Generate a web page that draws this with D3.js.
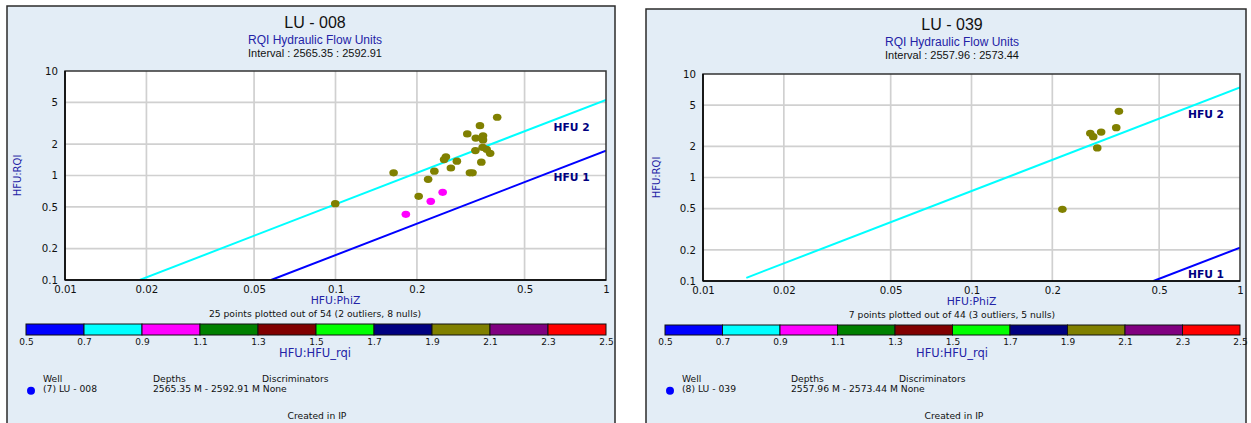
<!DOCTYPE html>
<html>
<head>
<meta charset="utf-8">
<script src="https://cdn.jsdelivr.net/npm/d3@7"></script>
<style>
  body { margin: 0; background: #fff; }
  svg { display: block; }
</style>
</head>
<body>
<script>
const lu008PhiZ = [0.396, 0.342, 0.307, 0.330, 0.351, 0.351, 0.350, 0.362, 0.329, 0.373,
  0.256, 0.252, 0.281, 0.164, 0.232, 0.267, 0.346, 0.321, 0.314, 0.220, 0.0998, 0.203,
  0.182, 0.225, 0.249];
const lu008RQI = [3.61, 3.0, 2.50, 2.28, 2.40, 2.19, 1.86, 1.78, 1.73, 1.63,
  1.51, 1.42, 1.37, 1.06, 1.10, 1.18, 1.34, 1.06, 1.06, 0.92, 0.537, 0.632,
  0.425, 0.566, 0.690];
const lu008HFU = [2, 2, 2, 2, 2, 2, 2, 2, 2, 2, 2, 2, 2, 2, 2, 2, 2, 2, 2, 2, 2, 2, 1, 1, 1];

const lu039PhiZ = [0.354, 0.346, 0.304, 0.277, 0.284, 0.294, 0.218];
const lu039RQI = [4.36, 3.03, 2.75, 2.67, 2.48, 1.93, 0.493];
const lu039HFU = [2, 2, 2, 2, 2, 2, 2];

// flow unit lines: RQI = FZI * PhiZ
const lu008Lines = [
  { name: "HFU 2", fzi: 5.3, from: 0.0189, hfu: 0.8 },
  { name: "HFU 1", fzi: 1.73, from: 0.0578, hfu: 0.6 }
];
const lu039Lines = [
  { name: "HFU 2", fzi: 7.4, from: 0.0145, hfu: 0.8 },
  { name: "HFU 1", fzi: 0.21, from: 0.476, hfu: 0.6 }
];

const hfuBreaks = [0.5, 0.7, 0.9, 1.1, 1.3, 1.5, 1.7, 1.9, 2.1, 2.3, 2.5];
const hfuColors = ["#0000ff", "#00ffff", "#ff00ff", "#008000", "#800000",
  "#00ff00", "#000080", "#808000", "#800080", "#ff0000"];
const xTicks = [0.01, 0.02, 0.05, 0.1, 0.2, 0.5, 1];
const yTicks = [0.1, 0.2, 0.5, 1, 2, 5, 10];

const panels = [
  {
    well: "LU - 008", wellNo: 7, interval: "2565.35 : 2592.91",
    depths: "2565.35 M - 2592.91 M", plotted: 25, total: 54, outliers: 2, nulls: 8,
    phiz: lu008PhiZ, rqi: lu008RQI, hfu: lu008HFU, lines: lu008Lines,
    box: [7, 6, 608], plot: [65, 71, 606, 280], cx: 315, bar: [26, 606, 324, 335], dy: 0,
    legend: [31, 43, 153, 262]
  },
  {
    well: "LU - 039", wellNo: 8, interval: "2557.96 : 2573.44",
    depths: "2557.96 M - 2573.44 M", plotted: 7, total: 44, outliers: 3, nulls: 5,
    phiz: lu039PhiZ, rqi: lu039RQI, hfu: lu039HFU, lines: lu039Lines,
    box: [646, 9, 600], plot: [703, 74, 1240, 281], cx: 952, bar: [665, 1240, 325, 335], dy: 2,
    legend: [670, 682, 791, 899]
  }
];

const W = 1251, H = 423;
const sans = "'DejaVu Sans', Verdana, sans-serif";
const arial = "'Liberation Sans', Arial, sans-serif";

const svg = d3.select("body").append("svg").attr("width", W).attr("height", H);

const colorOf = d3.scaleThreshold().domain(hfuBreaks.slice(1, -1)).range(hfuColors);
const fmt = (d) => String(d);

panels.forEach(function (p, pi) {
  const g = svg.append("g");
  const [bx, by, bw] = p.box;
  const [x0, y0, x1, y1] = p.plot;

  g.append("rect")
    .attr("x", bx).attr("y", by).attr("width", bw).attr("height", H + 20)
    .attr("fill", "#e3edf6").attr("stroke", "#2b2b2b").attr("stroke-width", 1.5);

  // titles
  g.append("text").attr("x", p.cx).attr("y", 27.5 + p.dy).attr("text-anchor", "middle")
    .style("font-family", arial).style("font-size", "16px").attr("fill", "#111").text(p.well);
  g.append("text").attr("x", p.cx).attr("y", 44 + p.dy).attr("text-anchor", "middle")
    .style("font-family", arial).style("font-size", "12px").attr("fill", "#2323a6")
    .text("RQI Hydraulic Flow Units");
  g.append("text").attr("x", p.cx).attr("y", 57 + p.dy).attr("text-anchor", "middle")
    .style("font-family", arial).style("font-size", "11px").attr("fill", "#111")
    .text("Interval : " + p.interval);

  const x = d3.scaleLog().domain([0.01, 1]).range([x0, x1]);
  const y = d3.scaleLog().domain([0.1, 10]).range([y1, y0]);

  g.append("rect").attr("x", x0).attr("y", y0).attr("width", x1 - x0).attr("height", y1 - y0)
    .attr("fill", "#fff");

  // grid
  g.selectAll(".gx").data(xTicks.slice(1, -1)).enter().append("line")
    .attr("x1", (d) => x(d)).attr("x2", (d) => x(d)).attr("y1", y0).attr("y2", y1)
    .attr("stroke", "#d0d0d0").attr("stroke-width", 1.7);
  g.selectAll(".gy").data(yTicks.slice(1, -1)).enter().append("line")
    .attr("y1", (d) => y(d)).attr("y2", (d) => y(d)).attr("x1", x0).attr("x2", x1)
    .attr("stroke", "#d0d0d0").attr("stroke-width", 1.7);

  const clipId = "clip" + pi;
  g.append("clipPath").attr("id", clipId).append("rect")
    .attr("x", x0).attr("y", y0).attr("width", x1 - x0).attr("height", y1 - y0);

  const line = d3.line().x((d) => x(d[0])).y((d) => y(d[1]));
  const inner = g.append("g").attr("clip-path", "url(#" + clipId + ")");
  inner.selectAll(".hfu").data(p.lines).enter().append("path")
    .attr("d", (d) => line([[d.from, d.fzi * d.from], [1, d.fzi]]))
    .attr("fill", "none").attr("stroke", (d) => colorOf(d.hfu)).attr("stroke-width", 2);

  g.selectAll(".lab").data(p.lines).enter().append("text")
    .attr("x", (d) => x(0.64)).attr("y", (d) => y(d.fzi * 0.64) + 10.5)
    .style("font-family", sans).style("font-size", "10.7px").style("font-weight", "bold")
    .attr("fill", "#000080").text((d) => d.name);

  // points
  const pts = p.phiz.map((v, i) => ({ phiz: v, rqi: p.rqi[i], hfu: p.hfu[i] }));
  inner.selectAll(".pt").data(pts).enter().append("ellipse")
    .attr("cx", (d) => x(d.phiz)).attr("cy", (d) => y(d.rqi))
    .attr("rx", 4.3).attr("ry", 3.6)
    .attr("fill", (d) => colorOf(d.hfu));

  // frame + axes
  g.append("rect").attr("x", x0).attr("y", y0).attr("width", x1 - x0).attr("height", y1 - y0)
    .attr("fill", "none").attr("stroke", "#333").attr("stroke-width", 1.5);
  g.append("line").attr("x1", x0).attr("x2", x0).attr("y1", y0).attr("y2", y1)
    .attr("stroke", "#000").attr("stroke-width", 1.5);
  g.append("line").attr("x1", x0).attr("x2", x1).attr("y1", y1).attr("y2", y1)
    .attr("stroke", "#000").attr("stroke-width", 1.5);

  const xAxis = g.append("g").attr("transform", "translate(0," + y1 + ")")
    .call(d3.axisBottom(x).tickValues(xTicks).tickFormat(fmt).tickSize(0).tickPadding(6));
  const yAxis = g.append("g").attr("transform", "translate(" + x0 + ",0)")
    .call(d3.axisLeft(y).tickValues(yTicks).tickFormat(fmt).tickSize(0).tickPadding(7));
  [xAxis, yAxis].forEach(function (a) {
    a.select(".domain").remove();
    a.selectAll("text").style("font-family", sans).style("font-size", "10.2px").attr("fill", "#111");
  });

  g.append("text").attr("x", (x0 + x1) / 2).attr("y", 304 + p.dy / 2).attr("text-anchor", "middle")
    .style("font-family", sans).style("font-size", "10.8px").attr("fill", "#2323a6").text("HFU:PhiZ");
  g.append("text").attr("transform", "translate(" + (bx + 14) + "," + (y0 + y1) / 2 + ") rotate(-90)")
    .attr("text-anchor", "middle")
    .style("font-family", sans).style("font-size", "10px").attr("fill", "#2323a6").text("HFU:RQI");

  g.append("text").attr("x", p.cx).attr("y", 317 + p.dy / 2).attr("text-anchor", "middle")
    .style("font-family", sans).style("font-size", "9.2px").attr("fill", "#111")
    .text(p.plotted + " points plotted out of " + p.total + " (" + p.outliers + " outliers, " + p.nulls + " nulls)");

  // colour bar
  const [cb0, cb1, cbt, cbb] = p.bar;
  const cx = d3.scaleLinear().domain([0.5, 2.5]).range([cb0, cb1]);
  g.selectAll(".seg").data(hfuColors).enter().append("rect")
    .attr("x", (d, i) => cx(hfuBreaks[i])).attr("y", cbt)
    .attr("width", (d, i) => cx(hfuBreaks[i + 1]) - cx(hfuBreaks[i])).attr("height", cbb - cbt)
    .attr("fill", (d) => d).attr("stroke", "#111").attr("stroke-width", 1);
  const barAxis = g.append("g").attr("transform", "translate(0," + cbb + ")")
    .call(d3.axisBottom(cx).tickValues(hfuBreaks).tickFormat(d3.format(".1f")).tickSize(0).tickPadding(4));
  barAxis.select(".domain").remove();
  barAxis.selectAll("text").style("font-family", sans).style("font-size", "9px").attr("fill", "#111");

  g.append("text").attr("x", p.cx).attr("y", 357).attr("text-anchor", "middle")
    .style("font-family", sans).style("font-size", "11.5px").attr("fill", "#2323a6").text("HFU:HFU_rqi");

  // legend
  const [dotX, wellX, depX, discX] = p.legend;
  const leg = [
    [wellX, 381.5, "Well"], [depX, 381.5, "Depths"], [discX, 381.5, "Discriminators"],
    [wellX, 392, "(" + p.wellNo + ") " + p.well], [depX, 392, p.depths + " None"]
  ];
  g.selectAll(".leg").data(leg).enter().append("text")
    .attr("x", (d) => d[0]).attr("y", (d) => d[1])
    .style("font-family", sans).style("font-size", "9.2px").attr("fill", "#111")
    .text((d) => d[2]);
  g.append("circle").attr("cx", dotX).attr("cy", 390.7).attr("r", 4).attr("fill", "#0000ff");

  g.append("text").attr("x", p.cx + 2).attr("y", 419).attr("text-anchor", "middle")
    .style("font-family", sans).style("font-size", "9.2px").attr("fill", "#111").text("Created in IP");
});
</script>
</body>
</html>
